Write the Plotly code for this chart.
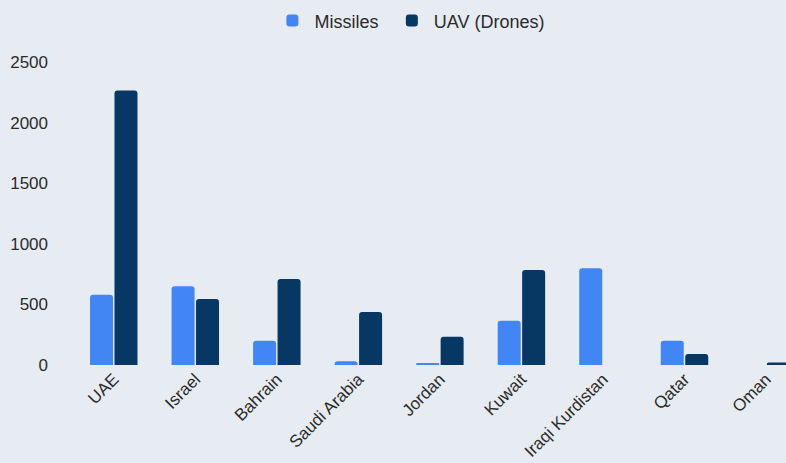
import plotly.graph_objects as go

categories = ["UAE", "Israel", "Bahrain", "Saudi Arabia", "Jordan", "Kuwait",
              "Iraqi Kurdistan", "Qatar", "Oman"]
missiles = [580, 650, 200, 30, 15, 365, 798, 200, 0]
drones = [2265, 545, 710, 437, 233, 784, 0, 91, 20]
y_ticks = [0, 500, 1000, 1500, 2000, 2500]

BG = "#E7EBF2"
FONT = "Liberation Sans, Arial, sans-serif"
TXT = "#2b2b2b"

fig = go.Figure()
fig.add_trace(go.Bar(name="Missiles", x=categories, y=missiles, legend="legend",
                     marker=dict(color="#4285F4", line=dict(width=0))))
fig.add_trace(go.Bar(name="UAV (Drones)", x=categories, y=drones, legend="legend2",
                     marker=dict(color="#073763", line=dict(width=0))))

leg_common = dict(orientation="h", xanchor="left", xref="container",
                  y=0.995, yanchor="top", yref="container", itemwidth=34,
                  font=dict(size=18, color=TXT), bgcolor="rgba(0,0,0,0)")

fig.update_layout(
    width=786, height=463,
    paper_bgcolor=BG, plot_bgcolor=BG,
    margin=dict(l=73, r=0, t=62, b=98),
    barmode="group", bargap=0.4, bargroupgap=0.06,
    barcornerradius=3,
    font=dict(family=FONT, size=17, color=TXT),
    legend=dict(x=0.344, **leg_common),
    legend2=dict(x=0.496, **leg_common),
    showlegend=True,
)
fig.update_xaxes(range=[-0.5, 8.245], tickangle=-45, showgrid=False, zeroline=False,
                 showline=False, ticks="", tickfont=dict(size=17, color=TXT))
fig.update_yaxes(range=[0, 2500], tickvals=y_ticks, showgrid=False, zeroline=False,
                 showline=False, ticks="", ticklabelstandoff=24,
                 tickfont=dict(size=17, color=TXT))

fig.write_html(
    "out.html",
    config={"displayModeBar": False},
    post_script="document.body.style.margin='0';document.body.style.background='" + BG + "';",
)
